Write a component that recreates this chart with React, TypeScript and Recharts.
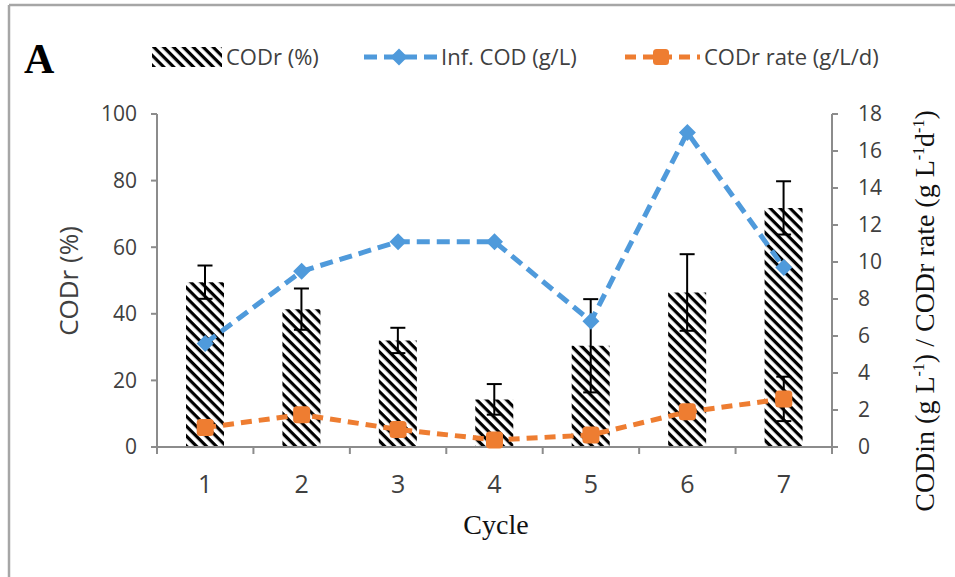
import React from 'react';
import { ComposedChart, Bar, Line, XAxis, YAxis, ErrorBar } from 'recharts';

const cycles = ['1', '2', '3', '4', '5', '6', '7'];
const codrPct = [49.5, 41.4, 32.0, 14.3, 30.4, 46.4, 71.8];
const codrPctErr = [5.0, 6.2, 3.8, 4.6, 14.0, 11.5, 8.0];
const infCod = [5.6, 9.5, 11.1, 11.1, 6.8, 17.0, 9.7];
const codrRate = [1.05, 1.75, 0.95, 0.38, 0.65, 1.9, 2.6];
const codrRateErr = [0.2, 0.2, 0.2, 0.2, 0.2, 0.2, 1.2];
const leftTicks = [0, 20, 40, 60, 80, 100];
const rightTicks = [0, 2, 4, 6, 8, 10, 12, 14, 16, 18];

const data = cycles.map((c, i) => ({
  cycle: c,
  codr: codrPct[i],
  codrErr: codrPctErr[i],
  inf: infCod[i],
  rate: codrRate[i],
  rateErr: codrRateErr[i],
}));

const BLUE = '#4F9ADB';
const ORANGE = '#EE7D31';
const AXIS = '#8C8C8C';
const TEXT = '#404040';
const SANS = '"Open Sans", "Noto Sans", sans-serif';
const SERIF = '"Liberation Serif", "DejaVu Serif", serif';

const X_TICK_SIZE = 6;
const X_TICK_MARGIN = 20;

const CycleTick = (props: any) => {
  const { x, y, payload, index, visibleTicksCount } = props;
  const off = payload && payload.offset ? payload.offset : 0;
  const axisY = y - X_TICK_SIZE - X_TICK_MARGIN;
  const isLast = index === (visibleTicksCount ?? cycles.length) - 1;
  return (
    <g>
      <line x1={x - off} y1={axisY} x2={x - off} y2={axisY + 7} stroke={AXIS} strokeWidth={2} />
      {isLast && <line x1={x + off} y1={axisY} x2={x + off} y2={axisY + 7} stroke={AXIS} strokeWidth={2} />}
      <text x={x} y={y} dy="0.78em" textAnchor="middle" fill={TEXT} fontSize={25} fontFamily={SANS}>
        {payload.value}
      </text>
    </g>
  );
};

const Diamond = (props: any) => {
  const { cx, cy, index } = props;
  if (cx == null || cy == null) return <g key={`d${index}`} />;
  const r = 8.5;
  return (
    <path
      key={`d${index}`}
      d={`M${cx},${cy - r} L${cx + r},${cy} L${cx},${cy + r} L${cx - r},${cy} Z`}
      fill={BLUE}
    />
  );
};

const Square = (props: any) => {
  const { cx, cy, index } = props;
  if (cx == null || cy == null) return <g key={`s${index}`} />;
  const r = 8.5;
  return <rect key={`s${index}`} x={cx - r} y={cy - r} width={2 * r} height={2 * r} rx={3.5} fill={ORANGE} />;
};

export default function App() {
  return (
    <div style={{ position: 'absolute', left: 0, top: 0, width: 955, height: 577, background: '#fff', overflow: 'hidden' }}>
      <svg width={0} height={0} style={{ position: 'absolute' }}>
        <defs>
          <pattern id="hatch" patternUnits="userSpaceOnUse" width={7} height={7} patternTransform="rotate(45)">
            <rect width={7} height={7} fill="#fff" />
            <rect width={7} height={3.2} fill="#000" />
          </pattern>
        </defs>
      </svg>
      <ComposedChart
        width={955}
        height={577}
        data={data}
        margin={{ top: 114, right: 63, bottom: 90, left: 97 }}
      >
        <XAxis
          dataKey="cycle"
          height={40}
          axisLine={{ stroke: AXIS, strokeWidth: 2 }}
          tickLine={false}
          tickSize={X_TICK_SIZE}
          tickMargin={X_TICK_MARGIN}
          interval={0}
          tick={<CycleTick />}
        />
        <YAxis
          yAxisId="left"
          domain={[0, 100]}
          ticks={leftTicks}
          width={60}
          tickSize={6}
          tickMargin={14}
          axisLine={{ stroke: AXIS, strokeWidth: 2 }}
          tickLine={{ stroke: AXIS, strokeWidth: 2 }}
          tick={{ fill: TEXT, fontSize: 21, fontFamily: SANS }}
        />
        <YAxis
          yAxisId="right"
          orientation="right"
          domain={[0, 18]}
          ticks={rightTicks}
          width={60}
          tickSize={6}
          tickMargin={20}
          axisLine={{ stroke: AXIS, strokeWidth: 2 }}
          tickLine={{ stroke: AXIS, strokeWidth: 2 }}
          tick={{ fill: TEXT, fontSize: 21, fontFamily: SANS }}
        />
        <Bar yAxisId="left" dataKey="codr" barSize={38} fill="url(#hatch)" isAnimationActive={false}>
          <ErrorBar dataKey="codrErr" width={7.5} stroke="#000" strokeWidth={2} direction="y" />
        </Bar>
        <Line
          yAxisId="right"
          dataKey="inf"
          stroke={BLUE}
          strokeWidth={5}
          strokeDasharray="13 7"
          dot={Diamond}
          activeDot={false}
          isAnimationActive={false}
        />
        <Line
          yAxisId="right"
          dataKey="rate"
          stroke={ORANGE}
          strokeWidth={5}
          strokeDasharray="11 7"
          dot={Square}
          activeDot={false}
          isAnimationActive={false}
        >
          <ErrorBar dataKey="rateErr" width={7.5} stroke="#000" strokeWidth={2} direction="y" />
        </Line>
      </ComposedChart>
      <svg width={955} height={577} style={{ position: 'absolute', left: 0, top: 0, pointerEvents: 'none' }}>
        <line x1={9} y1={5} x2={9} y2={577} stroke="#A6A6A6" strokeWidth={2.5} />
        <line x1={9} y1={5} x2={955} y2={5} stroke="#A6A6A6" strokeWidth={2.5} />
        <text x={24} y={73} fontFamily={SERIF} fontWeight="bold" fontSize={42} fill="#000">A</text>
        {/* legend */}
        <rect x={152} y={47} width={70} height={20} fill="url(#hatch)" />
        <text x={226} y={65} fontFamily={SANS} fontSize={22} fill={TEXT}>CODr (%)</text>
        <line x1={364} y1={57} x2={437} y2={57} stroke={BLUE} strokeWidth={5} strokeDasharray="13 7" />
        <path d="M399,48.5 L407.5,57 L399,65.5 L390.5,57 Z" fill={BLUE} />
        <text x={441} y={65} fontFamily={SANS} fontSize={22} fill={TEXT}>Inf. COD (g/L)</text>
        <line x1={625} y1={57} x2={700} y2={57} stroke={ORANGE} strokeWidth={5} strokeDasharray="11 7" />
        <rect x={653} y={49} width={16} height={16} rx={3.5} fill={ORANGE} />
        <text x={704} y={65} fontFamily={SANS} fontSize={22} fill={TEXT}>CODr rate (g/L/d)</text>
        {/* axis titles */}
        <text x={78} y={281} transform="rotate(-90 78 281)" textAnchor="middle" fontFamily={SANS} fontSize={26} fill={TEXT}>CODr (%)</text>
        <text x={496} y={534} textAnchor="middle" fontFamily={SERIF} fontSize={28} fill="#111">Cycle</text>
        <text x={934} y={311} transform="rotate(-90 934 311)" textAnchor="middle" fontFamily={SERIF} fontSize={28} fill="#111">
          CODin (g L<tspan dy={-10} fontSize={16}>-1</tspan><tspan dy={10}>) / CODr rate (g L</tspan><tspan dy={-10} fontSize={16}>-1</tspan><tspan dy={10}>d</tspan><tspan dy={-10} fontSize={16}>-1</tspan><tspan dy={10}>)</tspan>
        </text>
      </svg>
    </div>
  );
}
